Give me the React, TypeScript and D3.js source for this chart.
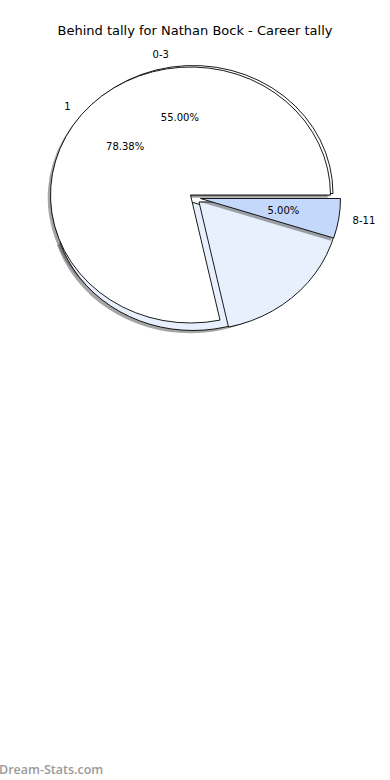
import React from "react";
import * as d3 from "d3";

const titleText = "Behind tally for Nathan Bock - Career tally";
const tallyLabels = ["0-3", "4-7", "8-11"];
const tallyValues = [55, 40, 5];
const tallyShowLabel = [true, false, true];
const careerLabels = ["1", "2+"];
const careerValues = [78.38, 21.62];
const careerShowLabel = [true, false];
const watermark = "Dream-Stats.com";

const W = 375;
const H = 780;
const RX = 140;
const RY = 128;
const FILL_LIGHT = "#e8f0fd";
const FILL_MID = "#c4d8fc";
const tallyFills = ["#ffffff", FILL_LIGHT, FILL_MID];
const careerFills = ["#ffffff", FILL_LIGHT];
// wedge centres (layout of the overlapped pies)
const tallyCenters: [number, number][] = [[193, 193.5], [193, 202.5], [200.5, 198.5]];
const careerCenters: [number, number][] = [[190.5, 195], [199, 202]];
const SHADOW_DX = -2.8;
const SHADOW_DY = 2.8;

const pieGen = d3
  .pie<number>()
  .sort(null)
  .value((d) => d)
  .startAngle(Math.PI / 2)
  .endAngle(Math.PI / 2 - 2 * Math.PI);

const arcGen = d3.arc<any>().innerRadius(0).outerRadius(RY);

type Wedge = {
  key: string;
  label: string;
  pct: string;
  showLabel: boolean;
  fill: string;
  cx: number;
  cy: number;
  path: string;
  mid: number; // math angle (ccw from east)
};

function build(labels: string[], values: number[], fills: string[], centers: [number, number][], show: boolean[], prefix: string): Wedge[] {
  const total = d3.sum(values);
  return pieGen(values).map((a, i) => {
    const midD3 = (a.startAngle + a.endAngle) / 2;
    return {
      key: prefix + i,
      label: labels[i],
      pct: ((values[i] / total) * 100).toFixed(2) + "%",
      showLabel: show[i],
      fill: fills[i],
      cx: centers[i][0],
      cy: centers[i][1],
      path: arcGen(a) as string,
      mid: Math.PI / 2 - midD3,
    };
  });
}

const tally = build(tallyLabels, tallyValues, tallyFills, tallyCenters, tallyShowLabel, "t");
const career = build(careerLabels, careerValues, careerFills, careerCenters, careerShowLabel, "c");

const sx = RX / RY;

function WedgePath({ w, shadow }: { w: Wedge; shadow?: boolean }) {
  const tx = w.cx + (shadow ? SHADOW_DX : 0);
  const ty = w.cy + (shadow ? SHADOW_DY : 0);
  return (
    <path
      d={w.path}
      transform={`translate(${tx},${ty}) scale(${sx},1)`}
      fill={shadow ? "#4d4d4d" : w.fill}
      fillOpacity={shadow ? 0.5 : 1}
      stroke={shadow ? "none" : "#000"}
      strokeWidth={0.9}
      vectorEffect="non-scaling-stroke"
      strokeLinejoin="round"
    />
  );
}

function Labels({ w }: { w: Wedge }) {
  if (!w.showLabel) return null;
  const c = Math.cos(w.mid);
  const s = Math.sin(w.mid);
  const lx = w.cx + 1.1 * RX * c;
  const ly = w.cy - 1.1 * RY * s;
  const px = w.cx + 0.6 * RX * c;
  const py = w.cy - 0.6 * RY * s;
  return (
    <g fontFamily="DejaVu Sans" fontSize={10} fill="#000">
      <text x={lx} y={ly} dy="0.35em" textAnchor={c >= 0 ? "start" : "end"}>
        {w.label}
      </text>
      <text x={px} y={py} dy="0.35em" textAnchor="middle">
        {w.pct}
      </text>
    </g>
  );
}

export default function App() {
  const [t03, t47, t811] = tally;
  const [c1, c2] = career;
  return (
    <div style={{ position: "absolute", left: 0, top: 0 }}>
      <svg width={W} height={H} style={{ display: "block", background: "#fff" }}>
        <text x={195} y={30} dy="0.35em" textAnchor="middle" fontFamily="DejaVu Sans" fontSize={13} fill="#000">
          {titleText}
        </text>
        {/* shadows */}
        <WedgePath w={t03} shadow />
        <WedgePath w={t47} shadow />
        <WedgePath w={c1} shadow />
        {/* first pie */}
        <WedgePath w={t03} />
        <WedgePath w={t47} />
        {/* second pie */}
        <WedgePath w={c1} />
        <WedgePath w={c2} />
        {/* exploded slice */}
        <WedgePath w={t811} shadow />
        <WedgePath w={t811} />
        <Labels w={t03} />
        <Labels w={t811} />
        <Labels w={c1} />
        <text x={-1} y={770} dy="0.35em" fontFamily="Open Sans" fontWeight={600} fontSize={12.5} fill="#9a9a9a">
          {watermark}
        </text>
      </svg>
    </div>
  );
}
